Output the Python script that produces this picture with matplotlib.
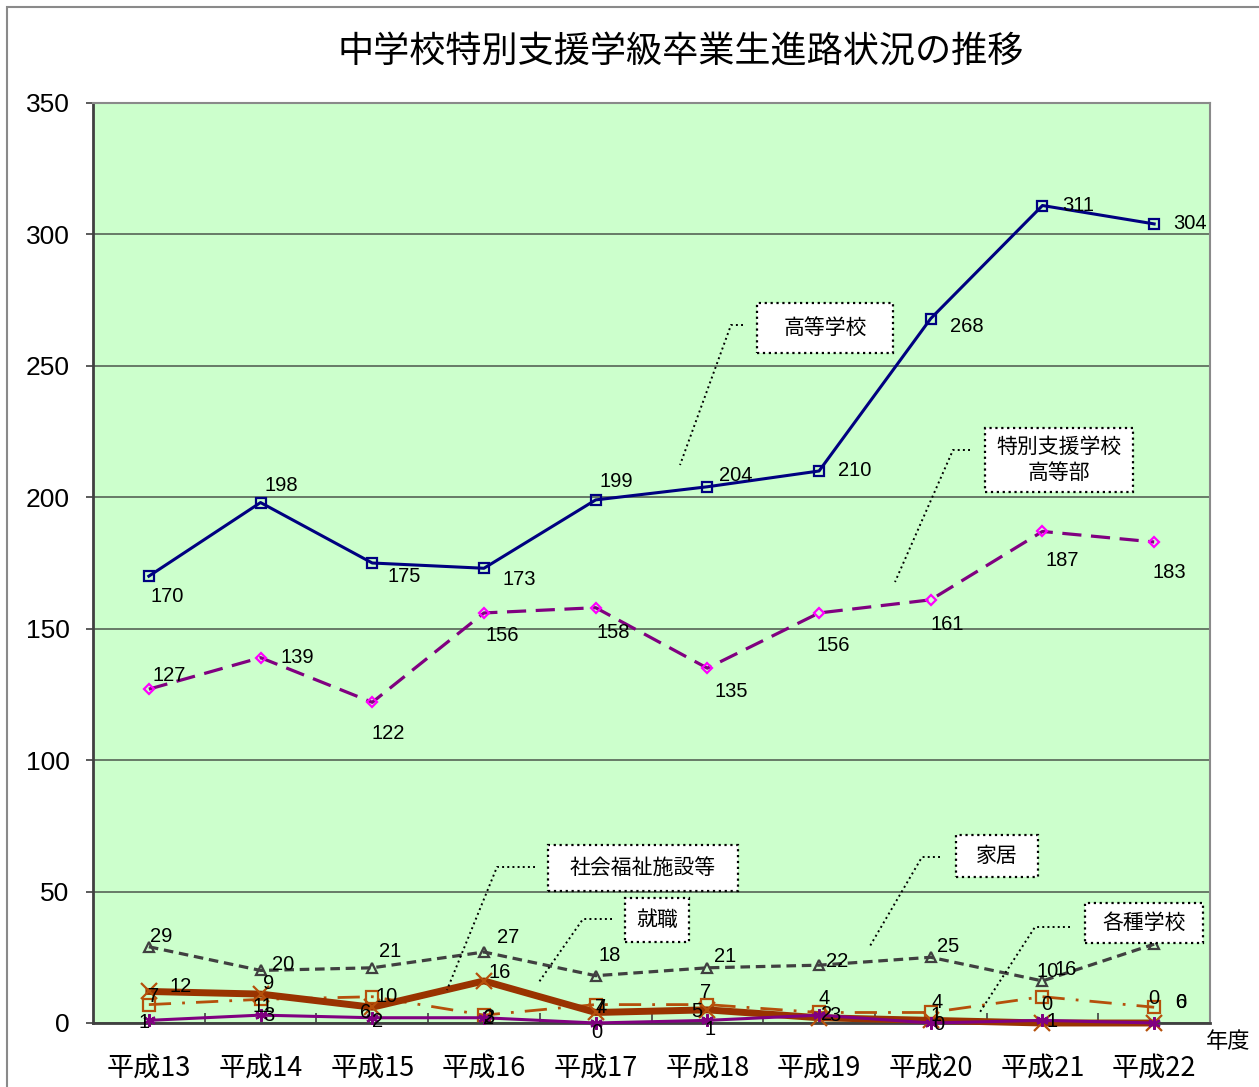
import matplotlib
matplotlib.use('Agg')
import matplotlib.pyplot as plt
from matplotlib.lines import Line2D
from matplotlib.patches import Rectangle

plt.rcParams['font.family'] = ['Noto Sans CJK JP', 'DejaVu Sans']

W, H = 1259, 1087

years = ['平成13', '平成14', '平成15', '平成16', '平成17',
         '平成18', '平成19', '平成20', '平成21', '平成22']
koto = [170, 198, 175, 173, 199, 204, 210, 268, 311, 304]      # 高等学校
tokushi = [127, 139, 122, 156, 158, 135, 156, 161, 187, 183]   # 特別支援学校高等部
kakyo = [29, 20, 21, 27, 18, 21, 22, 25, 16, 30]               # 家居
kakushu = [7, 9, 10, 3, 7, 7, 4, 4, 10, 6]                     # 各種学校
fukushi = [12, 11, 6, 16, 4, 5, 2, 1, 0, 0]                    # 社会福祉施設等
shushoku = [1, 3, 2, 2, 0, 1, 3, 0, 1, 0]                      # 就職
yticks = [0, 50, 100, 150, 200, 250, 300, 350]

NUM_FONT = ['Liberation Sans Narrow', 'Liberation Sans', 'DejaVu Sans']


def fx(x):
    return x / W


def fy(y):
    return 1 - y / H


fig = plt.figure(figsize=(W / 100, H / 100), dpi=100)
fig.patch.set_facecolor('white')
fig.patches.append(Rectangle((fx(7), fy(1200)), 2, fy(7) - fy(1200), transform=fig.transFigure,
                             fill=False, ec='#8a8a8a', lw=1.5))

ax = fig.add_axes([fx(93), fy(1023), fx(1210) - fx(93), fy(103) - fy(1023)])
ax.set_facecolor('#CCFFCC')
x = list(range(len(years)))

series = [
    # values, color, linestyle, lw, marker, msize, mec, label offsets (px right, px down)
    (koto, '#000080', '-', 2.2, 's', 7, '#000080',
     [(18, 20), (21, -17), (32, 14), (35, 11), (21, -18), (28, -11), (36, 0), (36, 8), (36, 0), (36, 0)]),
    (tokushi, '#800080', (0, (6, 3)), 2.3, 'D', 5, '#FF00FF',
     [(20, -14), (37, 0), (16, 31), (18, 23), (18, 25), (24, 23), (14, 33), (17, 25), (20, 29), (15, 31)]),
    # last label sits behind the 各種学校 box in the original, so it is not drawn
    (kakyo, '#404040', (0, (3, 1.8)), 2.3, '^', 7, '#404040',
     [(12, -10), (23, -6), (18, -16), (24, -15), (14, -20), (18, -11), (18, -4), (17, -11), (23, -11), None]),
    (kakushu, '#B5500B', (0, (8, 4, 1, 4)), 2.0, 's', 9, '#B5500B',
     [(5, -8), (8, -16), (14, 0), (5, 2), (5, 3), (-2, -12), (5, -14), (6, -10), (5, -25), (27, -5)]),
    (fukushi, '#993300', '-', 5.0, 'x', 11, '#B5500B',
     [(32, -5), (2, 12), (-7, 5), (16, -8), (5, -5), (-11, 2), (8, -3), (5, -5), (4, -18), (0, -25)]),
    (shushoku, '#800080', '-', 2.2, (6, 2, 0), 9, '#800080',
     [(-5, 2), (8, 0), (5, 4), (5, 1), (1, 10), (3, 9), (16, 0), (8, 2), (10, 1), (27, -20)]),
]

for vals, color, ls, lw, marker, ms, mec, offs in series:
    ax.plot(x, vals, color=color, linestyle=ls, linewidth=lw, marker=marker, markersize=ms,
            markerfacecolor='none', markeredgecolor=mec, markeredgewidth=1.6, zorder=3,
            clip_on=False)
    for xi, v, off in zip(x, vals, offs):
        if off is None:
            continue
        dx, dy = off
        ax.annotate(str(v), (xi, v), xytext=(dx, -dy), textcoords='offset pixels',
                    ha='center', va='center', fontsize=14.5, family=NUM_FONT, zorder=5)

ax.set_xlim(-0.5, len(years) - 0.5)
ax.set_ylim(0, 350)
ax.set_yticks(yticks)
ax.set_yticklabels([str(t) for t in yticks], family=NUM_FONT, fontsize=19)
ax.tick_params(axis='y', length=5, width=1.2, color='#404040', pad=12)
ax.set_xticks(x)
ax.set_xticklabels(years, fontsize=19.5)
ax.tick_params(axis='x', which='major', length=0, pad=23)
ax.set_xticks([i + 0.5 for i in x[:-1]], minor=True)
ax.tick_params(axis='x', which='minor', direction='in', length=7, width=1.2, color='#404040')
ax.grid(axis='y', color='#5f6f5f', lw=1.3, zorder=1)
ax.set_axisbelow(True)
for side in ['left', 'bottom']:
    ax.spines[side].set_color('#404040')
    ax.spines[side].set_linewidth(2)
for side in ['top', 'right']:
    ax.spines[side].set_color('#8a8a8a')
    ax.spines[side].set_linewidth(1.5)

fig.text(fx(681), fy(52), '中学校特別支援学級卒業生進路状況の推移', ha='center', va='center', fontsize=26)

# 系列名の吹き出し
boxes = [
    ('高等学校', (757, 303, 893, 353), [(743, 325), (731, 325), (680, 465)]),
    ('特別支援学校\n高等部', (985, 428, 1133, 492), [(970, 450), (953, 450), (895, 582)]),
    ('社会福祉施設等', (548, 845, 738, 891), [(535, 867), (497, 867), (447, 990)]),
    ('就職', (625, 898, 689, 942), [(612, 919), (583, 919), (539, 982)]),
    ('家居', (956, 835, 1038, 877), [(940, 857), (922, 857), (870, 946)]),
    ('各種学校', (1085, 903, 1203, 943), [(1070, 927), (1035, 927), (980, 1012)]),
]
for text, (x0, y0, x1, y1), pts in boxes:
    fig.patches.append(Rectangle((fx(x0), fy(y1)), fx(x1) - fx(x0), fy(y0) - fy(y1),
                                 transform=fig.transFigure, fc='white', ec='black',
                                 lw=1.6, ls=':', zorder=6))
    fig.text(fx((x0 + x1) / 2), fy((y0 + y1) / 2), text, ha='center', va='center',
             fontsize=15, linespacing=1.2, zorder=7)
    fig.lines.append(Line2D([fx(p[0]) for p in pts], [fy(p[1]) for p in pts],
                            transform=fig.transFigure, color='black', lw=1.4, ls=':', zorder=6))

fig.patches.append(Rectangle((fx(1196), fy(1062)), fx(1259) - fx(1196), fy(1025) - fy(1062),
                             transform=fig.transFigure, fc='white', ec='none', zorder=6))
fig.text(fx(1228), fy(1041), '年度', ha='center', va='center', fontsize=16, zorder=7)

plt.savefig('out.png', dpi=100)
